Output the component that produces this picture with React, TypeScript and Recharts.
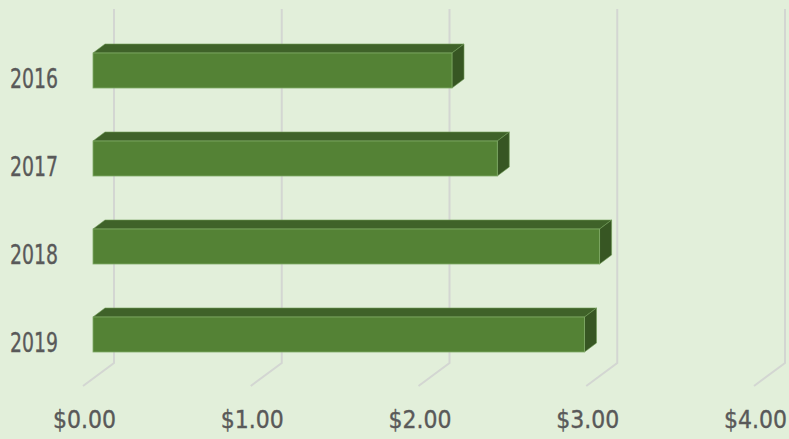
import React from "react";
import { BarChart, Bar, XAxis, YAxis, CartesianGrid } from "recharts";

const years = ["2016", "2017", "2018", "2019"];
const prices = [2.14, 2.41, 3.02, 2.93];
const priceTicks = [0, 1, 2, 3, 4];

const data = years.map((year, i) => ({ year, price: prices[i] }));

const FONT = "'Liberation Sans Narrow', 'DejaVu Sans Condensed', 'Roboto', sans-serif";
const DX = 12;
const DY = 9;

// 3D box: front face plus top and right side faces
const Bar3D = (props: any) => {
  const { x, y, width, height } = props;
  if (width == null || width <= 0) return null;
  const top = `${x},${y} ${x + DX},${y - DY} ${x + width + DX},${y - DY} ${x + width},${y}`;
  const side = `${x + width},${y} ${x + width + DX},${y - DY} ${x + width + DX},${y + height - DY} ${x + width},${y + height}`;
  return (
    <g>
      <polygon points={top} fill="#3f6229" stroke="#6f9a55" strokeWidth={0.6} />
      <polygon points={side} fill="#375623" stroke="#6f9a55" strokeWidth={0.6} />
      <rect x={x} y={y} width={width} height={height} fill="#548235" stroke="#7faa66" strokeWidth={0.8} />
    </g>
  );
};

// back-wall gridline that bends forward along the floor
const GridLine = (props: any) => {
  const { x1, y1, y2, index } = props;
  const d = `M${x1 + 21},${y1 - 17} L${x1 + 21},${y2 - 15} L${x1 - 10},${y2 + 8}`;
  return <path key={`g-${index}`} d={d} fill="none" stroke="#d3d6d2" strokeWidth={2} />;
};

const PriceTick = (props: any) => {
  const { x, y, payload } = props;
  return (
    <text
      x={x - 40}
      y={y + 50}
      textLength={63}
      lengthAdjust="spacingAndGlyphs"
      fontFamily={FONT}
      fontSize={25}
      fill="#595959"
      stroke="#595959"
      strokeWidth={0.35}
    >
      {`$${Number(payload.value).toFixed(2)}`}
    </text>
  );
};

const YearTick = (props: any) => {
  const { y, payload } = props;
  return (
    <text
      x={10}
      y={y + 8}
      textLength={48}
      lengthAdjust="spacingAndGlyphs"
      dominantBaseline="central"
      fontFamily={FONT}
      fontSize={27}
      fill="#595959"
      stroke="#595959"
      strokeWidth={0.35}
    >
      {payload.value}
    </text>
  );
};

export default function App() {
  return (
    <div style={{ position: "absolute", left: 0, top: 0, width: 789, height: 439, background: "#e2efda" }}>
      <BarChart
        width={789}
        height={439}
        data={data}
        layout="vertical"
        margin={{ top: 26, right: 25, left: 0, bottom: 0 }}
      >
        <CartesianGrid horizontal={false} vertical={GridLine} />
        <XAxis
          type="number"
          dataKey="price"
          domain={[0, 4]}
          ticks={priceTicks}
          axisLine={false}
          tickLine={false}
          tickSize={0}
          tickMargin={0}
          height={61}
          tick={<PriceTick />}
          interval={0}
        />
        <YAxis
          type="category"
          dataKey="year"
          width={93}
          axisLine={false}
          tickLine={false}
          tickSize={0}
          tickMargin={0}
          tick={<YearTick />}
        />
        <Bar dataKey="price" barSize={35} shape={<Bar3D />} isAnimationActive={false} />
      </BarChart>
    </div>
  );
}
